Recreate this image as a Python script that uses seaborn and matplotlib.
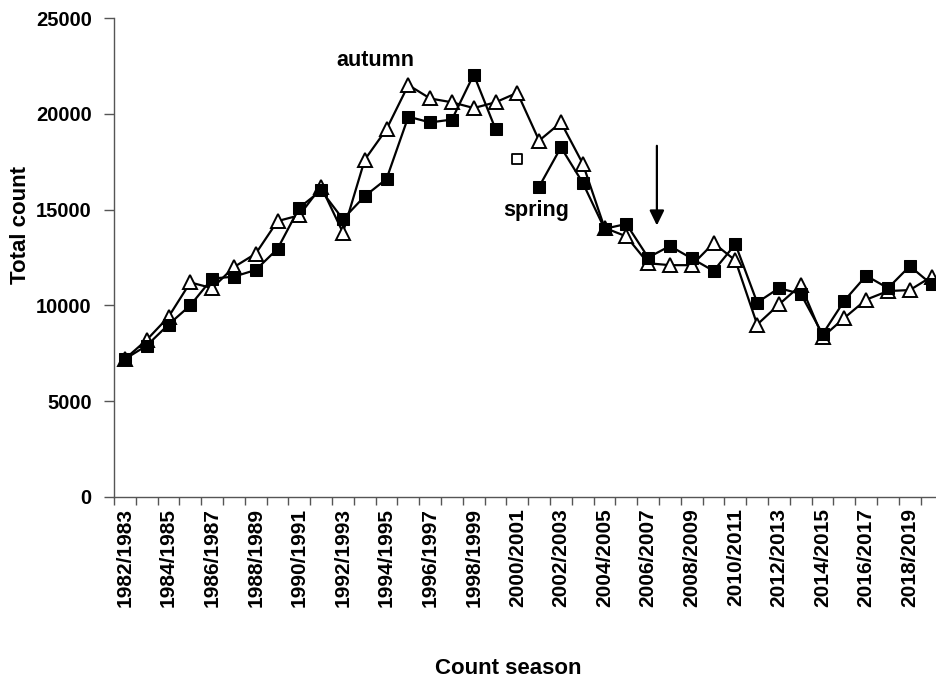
import numpy as np
import pandas as pd
import matplotlib
matplotlib.use("Agg")
import matplotlib.pyplot as plt
import seaborn as sns

# ---------------- data ----------------
seasons = [f"{y}/{y+1}" for y in range(1982, 2020)]
autumn = [7200, 8200, 9400, 11200, 10900, 12000, 12700, 14400, 14700, 16200,
          13800, 17600, 19200, 21500, 20800, 20600, 20300, 20600, 21100, 18600,
          19550, 17400, 14050, 13600, 12200, 12100, 12100, 13250, 12350, 9000,
          10050, 11050, 8350, 9350, 10300, 10750, 10800, 11500]
spring = [7200, 7900, 9000, 10000, 11400, 11500, 11850, 12950, 15100, 16000,
          14500, 15700, 16600, 19850, 19550, 19700, 22050, 19200, None, 16200,
          18250, 16400, 14000, 14250, 12500, 13100, 12450, 11800, 13200, 10150,
          10900, 10600, 8500, 10250, 11550, 10900, 12050, 11100]
spring_open_season = "2000/2001"
spring_open_value = 17650
arrow_season_pos = 24.4
arrow_from, arrow_to = 18330, 14170

# ---------------- style ----------------
sns.set_theme(style="white")
plt.rcParams["font.family"] = ["Liberation Sans", "DejaVu Sans"]
plt.rcParams["font.weight"] = "bold"
plt.rcParams["text.color"] = "black"
plt.rcParams["axes.labelcolor"] = "black"

fig = plt.figure(figsize=(9.37, 6.82), dpi=100)
ax = fig.add_axes([114/937, 1-497/682, (942.5-114)/937, (497-18)/682])

idx = np.arange(len(seasons))
df_aut = pd.DataFrame({"pos": idx, "count": autumn})
seg = np.cumsum([1 if v is None else 0 for v in spring])
df_spr = pd.DataFrame({"pos": idx, "count": spring, "seg": seg}).dropna()

sns.lineplot(data=df_aut, x="pos", y="count", ax=ax, color="black", lw=1.6,
             marker="^", markersize=9.5, markerfacecolor="white",
             markeredgecolor="black", markeredgewidth=1.4, zorder=3)
sns.lineplot(data=df_spr, x="pos", y="count", units="seg", estimator=None, ax=ax,
             color="black", lw=1.6, marker="s", markersize=9,
             markerfacecolor="black", markeredgecolor="black", zorder=4)
sns.scatterplot(x=[seasons.index(spring_open_season)], y=[spring_open_value], ax=ax,
                marker="s", s=60, facecolor="white", edgecolor="black",
                linewidth=1.3, zorder=5)

ax.annotate("", xy=(arrow_season_pos, arrow_to), xytext=(arrow_season_pos, arrow_from),
            arrowprops=dict(arrowstyle="-|>,head_length=0.45,head_width=0.22",
                            color="black", lw=1.6, mutation_scale=20, shrinkA=0, shrinkB=0))
ax.text(11.5, 22800, "autumn", ha="center", va="center", fontsize=15.5,
        fontweight="bold", color="black")
ax.text(18.85, 14950, "spring", ha="center", va="center", fontsize=15.5,
        fontweight="bold", color="black")

ax.set_xlim(-0.5, len(seasons) - 0.5)
ax.set_ylim(0, 25000)
ax.set_yticks(range(0, 25001, 5000))
ax.set_yticklabels([str(v) for v in range(0, 25001, 5000)], fontsize=14.5, fontweight="bold")
ax.set_xticks(idx[::2])
ax.set_xticklabels(seasons[::2], rotation=90, fontsize=15, fontweight="bold")
ax.set_xticks(np.arange(-0.5, len(seasons), 1), minor=True)
ax.tick_params(axis="x", which="major", length=0, pad=8, labelcolor="black")
ax.tick_params(axis="x", which="minor", length=6, width=1, color="#555555", direction="out")
ax.tick_params(axis="y", which="major", length=7, width=1, color="#555555",
               direction="out", pad=9, left=True, labelcolor="black")
ax.tick_params(axis="x", which="minor", bottom=True)

for s in ["top", "right"]:
    ax.spines[s].set_visible(False)
for s in ["left", "bottom"]:
    ax.spines[s].set_color("#555555")
    ax.spines[s].set_linewidth(1)

ax.set_xlabel("Count season", fontsize=16, fontweight="bold", va="center", color="black")
ax.set_ylabel("Total count", fontsize=16, fontweight="bold", va="center", color="black")
ax.xaxis.set_label_coords((508-114)/828.5, (497-669)/479)
ax.yaxis.set_label_coords((21-114)/828.5, (497-225)/479)

fig.savefig("out.png", dpi=100)
